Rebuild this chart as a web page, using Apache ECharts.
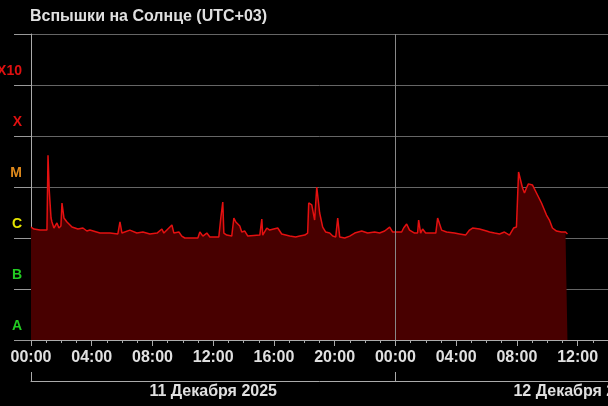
<!DOCTYPE html>
<html><head><meta charset="utf-8">
<script src="https://cdn.jsdelivr.net/npm/echarts@6/dist/echarts.min.js"></script>
<style>html,body{margin:0;padding:0;background:#000;}#c{width:608px;height:406px;}</style>
</head><body><div id="c"></div>
<script>
// Hours since 00:00, 11 Dec 2025 (UTC+03)
const hours = [
  0, 0.2, 0.59, 1.05, 1.12, 1.2, 1.32, 1.38, 1.51, 1.71, 1.84, 1.97, 2.04, 2.17, 2.37, 2.70, 3.09, 3.42, 3.68, 3.88,
  4.54, 5.20, 5.72, 5.86, 5.99, 6.51, 6.97, 7.37, 7.83, 8.3, 8.62, 8.75, 9.28, 9.41, 9.74, 9.93, 10.13, 10.99, 11.12, 11.32, 11.58, 11.78,
  12.37, 12.50, 12.63, 12.70, 12.89, 13.22, 13.36, 13.49, 13.55, 13.75, 13.88, 14.08, 14.28, 15.07, 15.20, 15.26, 15.53, 15.72, 16.25,
  16.51, 17.04, 17.43, 17.70, 18.03, 18.22, 18.29, 18.49, 18.68, 18.82, 19.01, 19.21, 19.41, 19.67, 19.87, 20.07, 20.20, 20.33,
  20.66, 20.99, 21.32, 21.78, 22.17, 22.63, 22.96, 23.29, 23.62, 23.82, 24.14, 24.41, 24.54, 24.74, 24.93, 25.26, 25.46, 25.53, 25.66,
  25.79, 25.99, 26.38, 26.66, 26.78, 27.04, 27.37, 27.89, 28.22, 28.62, 28.88, 29.08, 29.54, 30.0, 30.2, 30.53, 30.86, 31.18, 31.51,
  31.64, 31.78, 31.97, 32.11, 32.24, 32.37, 32.5, 32.63, 32.76, 33.03, 33.29, 33.62, 33.95, 34.14, 34.34, 34.61, 34.93, 35.2, 35.33
];
// X-ray flux, W/m^2
const flux = [
  1.64e-6, 1.5e-6, 1.43e-6, 1.43e-6, 4.2e-5, 8.7e-6, 2.47e-6, 2.06e-6, 1.57e-6, 1.97e-6, 1.57e-6, 1.72e-6, 4.86e-6, 2.47e-6, 2.06e-6, 1.64e-6, 1.5e-6, 1.57e-6, 1.37e-6, 1.43e-6,
  1.25e-6, 1.25e-6, 1.2e-6, 2.06e-6, 1.25e-6, 1.43e-6, 1.25e-6, 1.31e-6, 1.2e-6, 1.25e-6, 1.5e-6, 1.25e-6, 1.8e-6, 1.25e-6, 1.31e-6, 1.09e-6, 1.0e-6, 1.0e-6, 1.31e-6, 1.09e-6, 1.25e-6, 1.05e-6,
  1.05e-6, 2.47e-6, 5.08e-6, 1.25e-6, 1.14e-6, 1.09e-6, 2.47e-6, 2.06e-6, 1.97e-6, 1.72e-6, 1.31e-6, 1.37e-6, 1.09e-6, 1.14e-6, 2.36e-6, 1.14e-6, 1.57e-6, 1.43e-6, 1.57e-6,
  1.2e-6, 1.09e-6, 1.05e-6, 1.09e-6, 1.14e-6, 1.25e-6, 4.86e-6, 4.44e-6, 2.25e-6, 1.0e-5, 3.09e-6, 1.64e-6, 1.31e-6, 1.25e-6, 1.09e-6, 1.05e-6, 2.47e-6, 1.05e-6,
  1.0e-6, 1.09e-6, 1.25e-6, 1.37e-6, 1.25e-6, 1.31e-6, 1.25e-6, 1.37e-6, 1.64e-6, 1.31e-6, 1.31e-6, 1.31e-6, 1.57e-6, 1.88e-6, 1.43e-6, 1.25e-6, 1.25e-6, 2.25e-6, 1.25e-6,
  1.5e-6, 1.25e-6, 1.25e-6, 1.25e-6, 2.47e-6, 1.43e-6, 1.31e-6, 1.25e-6, 1.2e-6, 1.14e-6, 1.43e-6, 1.57e-6, 1.5e-6, 1.37e-6, 1.31e-6, 1.25e-6, 1.2e-6, 1.31e-6, 1.14e-6,
  1.09e-6, 1.57e-6, 1.64e-6, 1.97e-5, 1.37e-5, 9.55e-6, 7.63e-6, 9.55e-6, 1.15e-5, 1.09e-5, 7.63e-6, 4.86e-6, 2.82e-6, 2.25e-6, 1.57e-6, 1.37e-6, 1.31e-6, 1.31e-6, 1.2e-6
];
const classLabels = ['A', 'B', 'C', 'M', 'X', 'X10'];
const classColors = ['#22cc22', '#22cc22', '#e6e600', '#e08a1c', '#e01010', '#e01010'];
// decade position (above 1e-8) of each class label
const classLabelPos = [0.28, 1.28, 2.28, 3.28, 4.28, 5.28];
const dayLabels = ['11 Декабря 2025', '12 Декабря 2025'];
const title = 'Вспышки на Солнце (UTC+03)';

const pad = n => (n < 10 ? '0' : '') + n;
const seriesData = hours.map((h, i) => [h, flux[i]]);
const font = '"Liberation Sans", Arial, sans-serif';

const chart = echarts.init(document.getElementById('c'), null, {renderer: 'canvas'});
chart.setOption({
  backgroundColor: '#000',
  animation: false,
  title: {
    text: title, left: 25, top: 4,
    textStyle: {color: '#e0e0e0', fontSize: 16, fontWeight: 'bold', fontFamily: font}
  },
  grid: {left: 31, right: 0, top: 34, bottom: 66, containLabel: false, outerBoundsMode: 'none'},
  xAxis: [{
    type: 'value', min: 0, max: 38, interval: 4,
    axisLine: {show: true, lineStyle: {color: '#aaa', width: 1}},
    axisTick: {show: true, length: 6, lineStyle: {color: '#aaa'}},
    minorTick: {show: true, splitNumber: 4, length: 3, lineStyle: {color: '#aaa'}},
    splitLine: {show: false},
    axisLabel: {
      color: '#e0e0e0', fontSize: 16, fontWeight: 'bold', fontFamily: font, margin: 10,
      showMinLabel: true, showMaxLabel: false, hideOverlap: false,
      formatter: v => pad(v % 24) + ':00'
    }
  }, {
    type: 'value', min: 0, max: 38, position: 'bottom', offset: 41,
    axisLine: {show: true, lineStyle: {color: '#aaa', width: 1}},
    axisTick: {show: true, inside: true, length: 9, customValues: [0, 24], lineStyle: {color: '#aaa'}},
    splitLine: {show: false},
    axisLabel: {
      customValues: [12, 36], margin: 3, hideOverlap: false,
      color: '#e0e0e0', fontSize: 16, fontWeight: 'bold', fontFamily: font,
      formatter: v => dayLabels[Math.floor(v / 24)]
    }
  }],
  yAxis: [{
    type: 'log', logBase: 10, min: 1e-8, max: 1e-2,
    axisLine: {show: true, lineStyle: {color: '#aaa', width: 1}},
    axisTick: {show: true, length: 17, lineStyle: {color: '#999'}},
    axisLabel: {show: false},
    splitLine: {show: true, lineStyle: {color: ['#666', '#666', '#666', '#666', '#666', '#666', '#999'], width: 1}}
  }, {
    type: 'value', min: 0, max: 6, position: 'left',
    axisLine: {show: false}, axisTick: {show: false}, splitLine: {show: false},
    axisLabel: {
      customValues: classLabelPos, hideOverlap: false,
      margin: 9, align: 'right', fontSize: 14, fontWeight: 'bold', fontFamily: font,
      formatter: v => classLabels[Math.floor(v)],
      color: v => classColors[Math.floor(v)]
    }
  }],
  series: [{
    type: 'line', xAxisIndex: 0, yAxisIndex: 0,
    data: seriesData, showSymbol: false, symbol: 'none',
    lineStyle: {color: '#e41010', width: 1.5},
    areaStyle: {color: '#480000', opacity: 1, origin: 'start'},
    markLine: {
      silent: true, symbol: 'none', label: {show: false},
      lineStyle: {color: '#888', width: 1, type: 'solid'},
      data: [{xAxis: 24}]
    }
  }]
});
</script></body></html>
